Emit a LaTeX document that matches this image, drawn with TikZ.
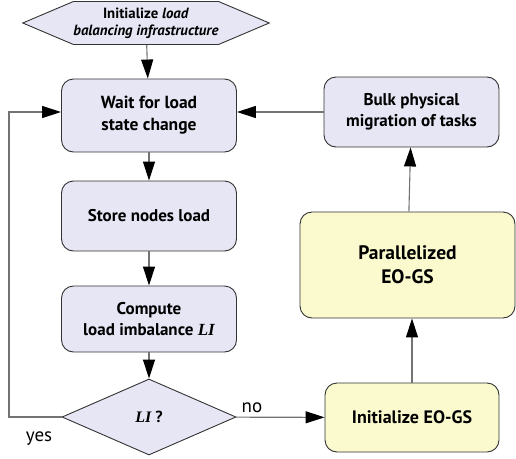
\documentclass[tikz,border=0pt]{standalone}
\usepackage{fontspec}
\setmainfont{PT Sans}
\newfontfamily\lifont{Liberation Serif}
\usetikzlibrary{shapes.geometric,shapes.symbols,arrows.meta}
\definecolor{stepfill}{HTML}{E6E6F5}
\definecolor{eofill}{HTML}{FAFACE}
\newcommand{\LI}{{\lifont\bfseries\itshape LI}}

\begin{document}
\begin{tikzpicture}[x=1pt,y=-1pt,
    stepbox/.style={draw=black!80,line width=0.9pt,rounded corners=12pt,
        fill=stepfill,align=center,inner sep=0pt,
        font=\fontsize{17}{20.5}\selectfont\bfseries},
    eobox/.style={stepbox,fill=eofill},
    startbox/.style={draw=black!80,line width=0.9pt,fill=stepfill,
        signal,signal to=east and west,signal pointer angle=46,
        align=center,inner sep=0pt,
        font=\fontsize{14.8}{17}\selectfont\bfseries},
    testbox/.style={draw=black!80,line width=0.9pt,fill=stepfill,
        diamond,aspect=2.3,inner sep=0pt,
        font=\fontsize{16}{19.5}\selectfont\bfseries},
    flow/.style={draw=black!55,line width=1.1pt,
        -{Triangle[length=19pt,width=12pt,black]}},
    lbl/.style={font=\fontsize{19}{21}\selectfont},
    ]
    \useasboundingbox (0,0) rectangle (516,458);

    % left column
    \node[startbox,minimum width=228,minimum height=43] (init) at (146,23)
        {Initialize \textit{load}\\\textit{balancing infrastructure}};
    \node[stepbox,minimum width=175,minimum height=73,
        font=\fontsize{17.5}{22}\selectfont\bfseries] (wait) at (149,115.5)
        {Wait for load\\state change};
    \node[stepbox,minimum width=175,minimum height=70] (store) at (149,216)
        {Store nodes load};
    \node[stepbox,minimum width=175,minimum height=66] (compute) at (149,319)
        {Compute\\load imbalance \LI};
    \node[testbox,minimum width=174,minimum height=76] (test) at (149,417)
        {\LI\ ?};

    % right column
    \node[eobox,minimum width=174,minimum height=69,
        font=\fontsize{18}{21}\selectfont\bfseries] (initeo) at (412,417.5)
        {Initialize EO-GS};
    \node[eobox,minimum width=215,minimum height=106,
        font=\fontsize{19.5}{24}\selectfont\bfseries] (par) at (407.5,265)
        {Parallelized\\EO-GS};
    \node[stepbox,minimum width=175,minimum height=70] (bulk) at (411.5,112)
        {Bulk physical\\migration of tasks};

    % flow
    \draw[flow] (init) -- (wait);
    \draw[flow] (wait) -- (store);
    \draw[flow] (store) -- (compute);
    \draw[flow] (compute) -- (test);
    \draw[flow] (test) -- node[lbl,pos=0.18,above=1pt] {no} (initeo);
    \draw[flow] (initeo) -- (initeo |- par.south);
    \draw[flow] (par) -- (bulk);
    \draw[flow] (bulk.west |- 0,112) -- (wait.east |- 0,112);

    % loop back
    \coordinate (back) at (9,417);
    \draw[flow] (test.west) -- (back) -- (9,112) -- (wait.west |- 0,112);
    \node[lbl] (yes) at (39,439) {yes};
\end{tikzpicture}
\end{document}
